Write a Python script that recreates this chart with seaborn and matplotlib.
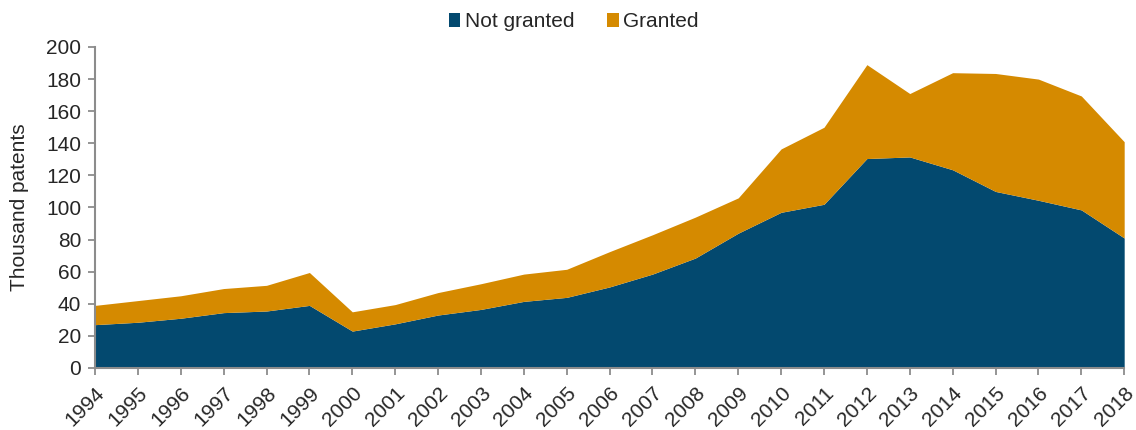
import matplotlib
matplotlib.use("Agg")
import matplotlib.pyplot as plt
from matplotlib.patches import Patch
import seaborn as sns
import pandas as pd

years = list(range(1994, 2019))
not_granted = [27, 28.5, 31, 34.5, 35.5, 39, 23, 27.5, 33, 36.5, 41.5, 44,
               50.5, 58.5, 68.5, 84, 97, 102, 130.5, 131.5, 123.5, 110,
               104.5, 98.5, 81]
total = [39, 42, 45, 49.5, 51.5, 59.5, 35, 39.5, 47, 52.5, 58.5, 61.5,
         72.5, 83, 94, 106, 136.5, 150, 189, 171, 184, 183.5,
         180, 169.5, 141]
granted = [t - n for t, n in zip(total, not_granted)]

series_names = ["Not granted", "Granted"]
colors = {"Not granted": "#03496F", "Granted": "#D58A00"}

df = pd.concat([
    pd.DataFrame({"year": years, "patents": not_granted, "status": "Not granted"}),
    pd.DataFrame({"year": years, "patents": granted, "status": "Granted"}),
])

sns.set_style("white")
plt.rcParams["font.family"] = ["Liberation Sans", "DejaVu Sans"]

fig = plt.figure(figsize=(11.36, 4.30), dpi=100)
ax = fig.add_axes([0.0836, 0.1442, 0.9060, 0.7465])

sns.histplot(
    data=df, x="year", weights="patents", hue="status",
    hue_order=["Granted", "Not granted"], palette=colors,
    discrete=True, element="poly", multiple="stack",
    linewidth=0, alpha=1, legend=False, ax=ax,
)

fs = 15
ax.set_xlim(1994, 2018)
ax.set_ylim(0, 200)
ax.set_yticks(range(0, 201, 20))
ax.set_xticks(years)
ax.set_xticklabels([str(y) for y in years], rotation=45, ha="right",
                   rotation_mode="anchor", fontsize=fs)
ax.tick_params(axis="y", labelsize=fs, pad=5)
ax.tick_params(axis="x", pad=6)
ax.tick_params(axis="both", direction="out", length=5, width=1.3,
               color="#8C8C8C", bottom=True, left=True)
ax.set_xlabel("")
ax.set_ylabel("Thousand patents", fontsize=fs, labelpad=12)

for side in ("top", "right"):
    ax.spines[side].set_visible(False)
for side in ("left", "bottom"):
    ax.spines[side].set_color("#8C8C8C")
    ax.spines[side].set_linewidth(1.5)

handles = [Patch(facecolor=colors[n], edgecolor="none", label=n) for n in series_names]
fig.legend(handles=handles, loc="upper center", bbox_to_anchor=(0.505, 1.015),
           ncol=2, frameon=False, fontsize=fs, handlelength=0.55,
           handleheight=0.65, handletextpad=0.2, columnspacing=1.6)

fig.savefig("out.png", dpi=100)
